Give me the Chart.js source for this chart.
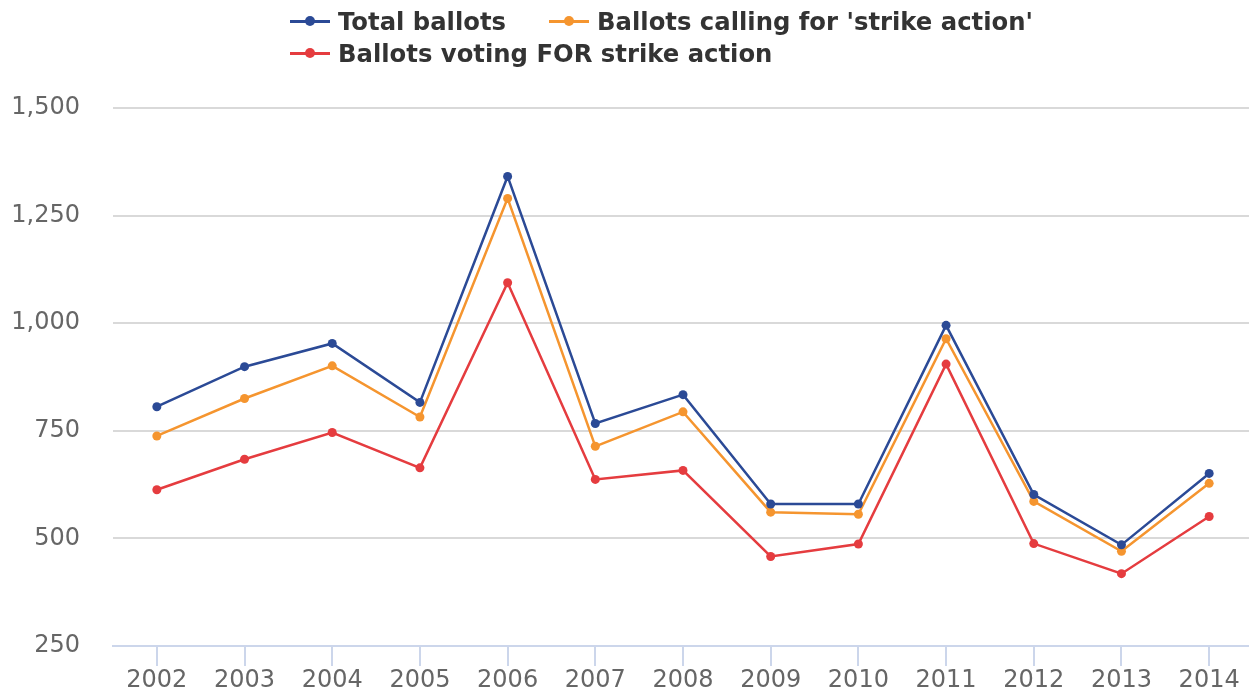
<!DOCTYPE html>
<html lang="en">
<head>
<meta charset="UTF-8">
<title>Strike ballots 2002-2014</title>
<script src="https://cdn.jsdelivr.net/npm/chart.js@4"></script>
<style>
  html, body { margin: 0; padding: 0; background: #fff; }
  #wrap { position: relative; width: 1249px; height: 689px; overflow: hidden; }
  #chart { display: block; }
  #legend {
    position: absolute; left: 290px; top: 6px; width: 800px;
    display: flex; flex-wrap: wrap; row-gap: 2px;
    font-family: "DejaVu Sans", sans-serif;
    font-weight: bold; font-size: 24.3px; color: #333;
  }
  .item { display: flex; align-items: center; height: 30px; margin-right: 43px; white-space: nowrap; }
  .sym { position: relative; width: 40px; height: 30px; margin-right: 8px; }
  .sym .ln { position: absolute; left: 0; right: 0; top: 14px; height: 3px; }
  .sym .dot { position: absolute; left: 15px; top: 10px; width: 10px; height: 10px; border-radius: 50%; }
</style>
</head>
<body>
<div id="wrap">
  <!-- plot runs a few px past the right edge, clipped by #wrap -->
  <canvas id="chart" width="1253" height="689"></canvas>
  <div id="legend"></div>
</div>
<script>
const years = ['2002','2003','2004','2005','2006','2007','2008','2009','2010','2011','2012','2013','2014'];
const totalBallots = [806, 899, 953, 816, 1341, 767, 834, 580, 580, 995, 602, 485, 651];
const callingStrike = [738, 825, 901, 782, 1290, 714, 794, 561, 556, 964, 586, 470, 628];
const votingFor = [613, 684, 746, 664, 1094, 637, 658, 458, 487, 905, 488, 418, 551];
const yTicks = [250, 500, 750, 1000, 1250, 1500];

const seriesNames = ['Total ballots', "Ballots calling for 'strike action'", 'Ballots voting FOR strike action'];
const seriesColors = ['#2b4a96', '#f5952f', '#e53c3f'];
const seriesData = [totalBallots, callingStrike, votingFor];

const datasets = seriesData.map((d, i) => ({
  label: seriesNames[i],
  data: d,
  borderColor: seriesColors[i],
  backgroundColor: seriesColors[i],
  borderWidth: 2.5,
  pointRadius: 4.5,
  pointHoverRadius: 4.5,
  pointBorderWidth: 0,
  tension: 0
}));

const axisFont = { family: '"DejaVu Sans", sans-serif', size: 24 };

const chart = new Chart(document.getElementById('chart'), {
  type: 'line',
  data: { labels: years, datasets },
  options: {
    responsive: false,
    animation: false,
    layout: { autoPadding: false, padding: { top: 108, left: 10, right: 0, bottom: 0 } },
    plugins: { legend: { display: false }, tooltip: { enabled: false } },
    scales: {
      x: {
        offset: true,
        afterFit: axis => { axis.height = 43; },
        grid: { drawOnChartArea: false, drawTicks: true, tickLength: 20, color: '#ccd6eb', lineWidth: 2, offset: false },
        border: { color: '#ccd6eb', width: 2 },
        ticks: { color: '#666', font: axisFont, padding: 0, maxRotation: 0 }
      },
      y: {
        min: 250, max: 1500,
        afterBuildTicks: axis => { axis.ticks = yTicks.map(v => ({ value: v })); },
        afterFit: axis => { axis.width = 103; },
        // invisible tick marks keep the labels clear of the plot
        grid: { color: '#d9d9d9', lineWidth: 2, drawTicks: true, tickLength: 30, tickColor: 'rgba(0,0,0,0)' },
        border: { display: false },
        ticks: { color: '#666', font: axisFont, padding: 3, callback: v => v.toLocaleString('en-US') }
      }
    }
  }
});

// legend built from the datasets
const legend = document.getElementById('legend');
chart.data.datasets.forEach(ds => {
  const item = document.createElement('div');
  item.className = 'item';
  item.innerHTML = `<span class="sym"><span class="ln" style="background:${ds.borderColor}"></span>` +
    `<span class="dot" style="background:${ds.borderColor}"></span></span><span>${ds.label}</span>`;
  legend.appendChild(item);
});
</script>
</body>
</html>
